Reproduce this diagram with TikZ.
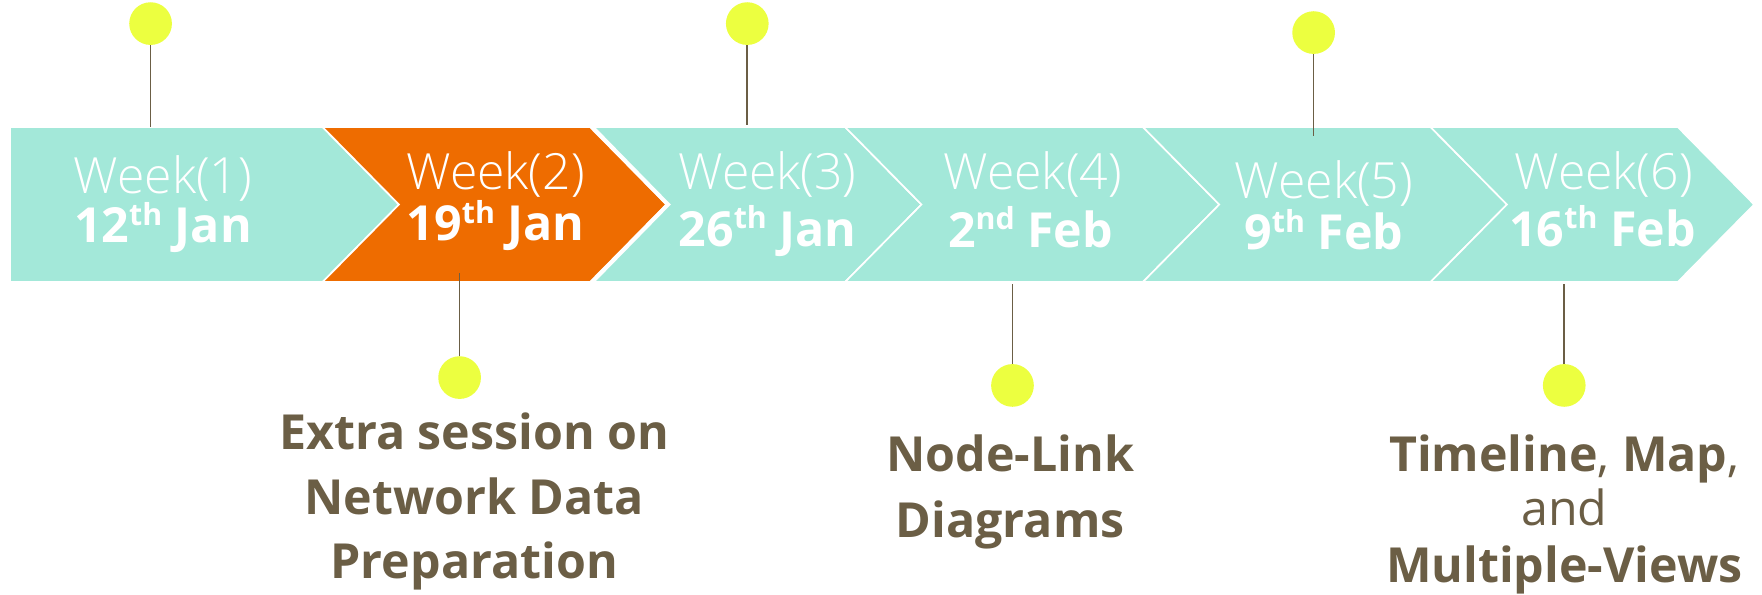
\documentclass[tikz,border=0pt]{standalone}
\usepackage{fontspec}
\setmainfont{Open Sans}
\newfontfamily\lightfont{Open Sans Light}
\definecolor{teal}{RGB}{163,232,217}
\definecolor{orng}{RGB}{238,108,0}
\definecolor{dotyel}{RGB}{236,255,64}
\definecolor{brn}{RGB}{107,94,69}
\newcommand{\ord}[1]{\raisebox{0.36em}{\fontsize{27}{27}\selectfont #1}}
\tikzset{
  chev/.style={fill=teal, draw=white, line width=1.5pt, line join=miter},
  chevhot/.style={fill=orng, draw=white, line width=1.5pt, line join=miter},
  dot/.style={circle, fill=dotyel, minimum size=38pt, inner sep=0pt},
  stem/.style={draw=brn, line width=1.5pt},
  wk/.style={anchor=base, text=white, inner sep=0pt, font=\lightfont\fontsize{44.4}{48}\selectfont},
  dt/.style={anchor=base, text=white, inner sep=0pt, font=\bfseries\fontsize{43}{47}\selectfont},
  topic/.style={anchor=base, text=brn, inner sep=0pt, font=\bfseries\fontsize{43}{50}\selectfont},
  topicreg/.style={anchor=base, text=brn, inner sep=0pt, font=\fontsize{43}{50}\selectfont}
}
\begin{document}
\begin{tikzpicture}[x=1pt,y=-1pt]
\useasboundingbox (0,0) rectangle (1568,529);

% timeline band: six chevrons, depth 68
\path[chev] (9,113) -- (287,113) -- (355,182) -- (287,251) -- (9,251) -- cycle;
\path[chev] (527,113) -- (752,113) -- (820,182) -- (752,251) -- (527,251) -- (595,182) -- cycle;
\path[chev] (752,113) -- (1017,113) -- (1085,182) -- (1017,251) -- (752,251) -- (820,182) -- cycle;
\path[chev] (1017,113) -- (1273,113) -- (1341,182) -- (1273,251) -- (1017,251) -- (1085,182) -- cycle;
\path[chev] (1273,113) -- (1493,113) -- (1561,182) -- (1493,251) -- (1273,251) -- (1341,182) -- cycle;
% current week
\path[chevhot] (287,113) -- (525,113) -- (593,182) -- (525,251) -- (287,251) -- (355,182) -- cycle;
\draw[white, line width=3.5pt] (526,112) -- (594.5,182) -- (526,252);

% week labels
\node[wk] (w1) at (145,172) {Week(1)};
\node[dt] (d1) at (145,216) {12\ord{th} Jan};
\node[wk] (w2) at (441,169) {Week(2)};
\node[dt] (d2) at (441,214) {19\ord{th} Jan};
\node[wk] (w3) at (683,169) {Week(3)};
\node[dt] (d3) at (683,219) {26\ord{th} Jan};
\node[wk] (w4) at (919,169) {Week(4)};
\node[dt] (d4) at (917,220) {2\ord{nd} Feb};
\node[wk] (w5) at (1178,177) {Week(5)};
\node[dt] (d5) at (1178,222) {9\ord{th} Feb};
\node[wk] (w6) at (1427,169) {Week(6)};
\node[dt] (d6) at (1426,219) {16\ord{th} Feb};

% markers and stems
\node[dot] (p1) at (134,21) {};
\node[dot] (p3) at (665,21) {};
\node[dot] (p5) at (1169,29) {};
\node[dot] (p2) at (409,336) {};
\node[dot] (p4) at (901,343) {};
\node[dot] (p6) at (1392,343) {};
\coordinate (s1) at (134,113);
\coordinate (s3) at (665,111);
\coordinate (s5) at (1169,121);
\coordinate (s2) at (409,243);
\coordinate (s4) at (901,253);
\coordinate (s6) at (1392,253);
\draw[stem] (p1) -- (s1);
\draw[stem] (p3) -- (s3);
\draw[stem] (p5) -- (s5);
\draw[stem] (p2) -- (s2);
\draw[stem] (p4) -- (s4);
\draw[stem] (p6) -- (s6);

% topics
\node[topic] (t2a) at (422,400) {Extra session on};
\node[topic] (t2b) at (422,458) {Network Data};
\node[topic] (t2c) at (422,515) {Preparation};
\node[topic] (t4a) at (899,420) {Node-Link};
\node[topic] (t4b) at (899,478) {Diagrams};
\node[topic] (t6a) at (1392,420) {Timeline{\mdseries,} Map{\mdseries,}};
\node[topicreg] (t6b) at (1392,468) {and};
\node[topic] (t6c) at (1392,518) {Multiple-Views};
\end{tikzpicture}
\end{document}
